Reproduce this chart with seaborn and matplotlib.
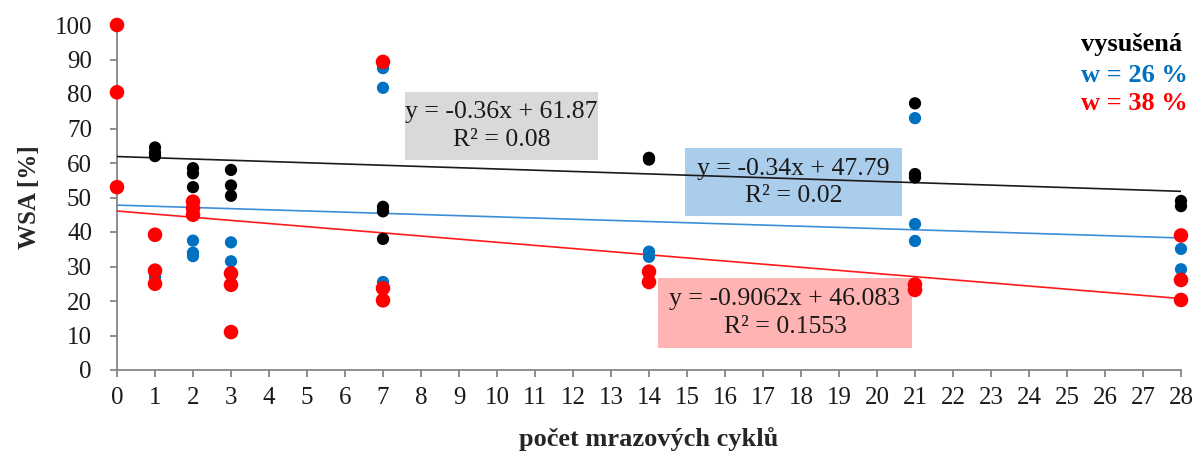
import numpy as np
import pandas as pd
import matplotlib
matplotlib.use("Agg")
import matplotlib.pyplot as plt
import seaborn as sns
from matplotlib.patches import Rectangle

# --- data: WSA [%] vs. number of freeze cycles -------------------------------
cycles_dry = [0, 0, 0, 1, 1, 1, 2, 2, 2, 3, 3, 3, 7, 7, 7, 14, 14, 21, 21, 21, 28, 28]
wsa_dry = [100, 80.5, 53, 64.5, 63, 62, 58.5, 57, 53, 58, 53.5, 50.5,
           47.3, 46, 38, 61.5, 61, 77.3, 56.8, 55.8, 49, 47.5]

cycles_w26 = [0, 0, 0, 1, 1, 1, 2, 2, 2, 3, 3, 7, 7, 7, 14, 14, 21, 21, 21, 28, 28]
wsa_w26 = [100, 80.5, 53, 39, 27, 25, 37.5, 34, 33, 37, 31.5,
           87.5, 81.8, 25.5, 34.3, 32.8, 73, 42.3, 37.4, 35.1, 29.2]

cycles_w38 = [0, 0, 0, 1, 1, 1, 2, 2, 2, 3, 3, 3, 7, 7, 7, 14, 14, 21, 21, 28, 28, 28]
wsa_w38 = [100, 80.5, 53, 39.2, 28.8, 25, 48.8, 46.9, 45, 28, 24.7, 11,
           89.3, 23.7, 20.2, 28.5, 25.5, 24.8, 23.2, 39, 26.1, 20.3]

series_names = ["vysušená", "w = 26 %", "w = 38 %"]
trend_slopes = [-0.36, -0.34, -0.9062]
trend_intercepts = [61.87, 47.79, 46.083]
trend_slope_txt = ["-0.36", "-0.34", "-0.9062"]
trend_intercept_txt = ["61.87", "47.79", "46.083"]
trend_r2_txt = ["0.08", "0.02", "0.1553"]

x_ticks = list(range(0, 29))
y_ticks = list(range(0, 101, 10))

# --- styling -------------------------------------------------------------------
sns.set_theme(style="white")
plt.rcParams["font.family"] = ["Liberation Serif", "DejaVu Serif"]
plt.rcParams["axes.unicode_minus"] = False

marker_colors = ["#000000", "#0070C0", "#FF0000"]
line_colors = ["#1a1a1a", "#3C8ED8", "#FF1A1A"]
box_colors = ["#D9D9D9", "#A9CDEA", "#FFB3B3"]
marker_sizes = [78, 78, 110]
axis_gray = "#868686"

fig = plt.figure(figsize=(12.01, 4.57), dpi=100)
ax = fig.add_axes([117 / 1201, 1 - 370 / 457, (1181 - 117) / 1201, (370 - 25) / 457])

frames = [
    pd.DataFrame({"cycles": cycles_dry, "wsa": wsa_dry}),
    pd.DataFrame({"cycles": cycles_w26, "wsa": wsa_w26}),
    pd.DataFrame({"cycles": cycles_w38, "wsa": wsa_w38}),
]

# linear trend lines, drawn from the fitted coefficients
for i, df in enumerate(frames):
    xs = np.array([df["cycles"].min(), df["cycles"].max()], dtype=float)
    ys = trend_intercepts[i] + trend_slopes[i] * xs
    sns.lineplot(x=xs, y=ys, ax=ax, color=line_colors[i], linewidth=1.2,
                 zorder=4, legend=False)

# scatter points (dry first, wettest on top)
for i, df in enumerate(frames):
    sns.scatterplot(data=df, x="cycles", y="wsa", ax=ax, color=marker_colors[i],
                    s=marker_sizes[i], linewidth=0, edgecolor="none",
                    clip_on=False, zorder=5 + i, legend=False)

# equation boxes (data coordinates: x0, y0, x1, y1)
boxes = [(7.58, 60.9, 12.66, 80.6), (14.95, 44.6, 20.66, 64.3), (14.24, 6.4, 20.92, 26.7)]
for i, (x0, y0, x1, y1) in enumerate(boxes):
    ax.add_patch(Rectangle((x0, y0), x1 - x0, y1 - y0, facecolor=box_colors[i],
                           edgecolor="none", zorder=2))
    cx = (x0 + x1) / 2
    h = y1 - y0
    ax.text(cx, y1 - h * 0.30, f"y = {trend_slope_txt[i]}x + {trend_intercept_txt[i]}",
            ha="center", va="center", fontsize=18.5, color="#1a1a1a", zorder=3)
    ax.text(cx, y0 + h * 0.30, f"R² = {trend_r2_txt[i]}",
            ha="center", va="center", fontsize=18.5, color="#1a1a1a", zorder=3)

# axes
ax.set_xlim(0, 28)
ax.set_ylim(0, 100)
ax.set_xticks(x_ticks)
ax.set_yticks(y_ticks)
ax.set_xticklabels([str(t) for t in x_ticks])
ax.set_yticklabels([str(t) for t in y_ticks])
for side in ["top", "right"]:
    ax.spines[side].set_visible(False)
for side in ["left", "bottom"]:
    ax.spines[side].set_color(axis_gray)
    ax.spines[side].set_linewidth(1.3)
ax.tick_params(axis="both", which="major", direction="out", length=5,
               width=1.3, color=axis_gray, labelsize=18, labelcolor="#1a1a1a")
ax.tick_params(axis="y", pad=13)
ax.tick_params(axis="x", pad=7)
ax.tick_params(left=True, bottom=True)
ax.grid(False)

ax.set_xlabel("počet mrazových cyklů", fontsize=19, fontweight="bold", labelpad=13)
ax.set_ylabel("WSA [%]", fontsize=18, fontweight="bold", labelpad=10)

# series labels in the upper right corner
label_y = [45, 76, 104]
for name, col, py in zip(series_names, marker_colors, label_y):
    fig.text(1081 / 1201, 1 - py / 457, name, ha="left", va="center",
             fontsize=19, fontweight="bold", color=col)

fig.savefig("out.png", dpi=100)
